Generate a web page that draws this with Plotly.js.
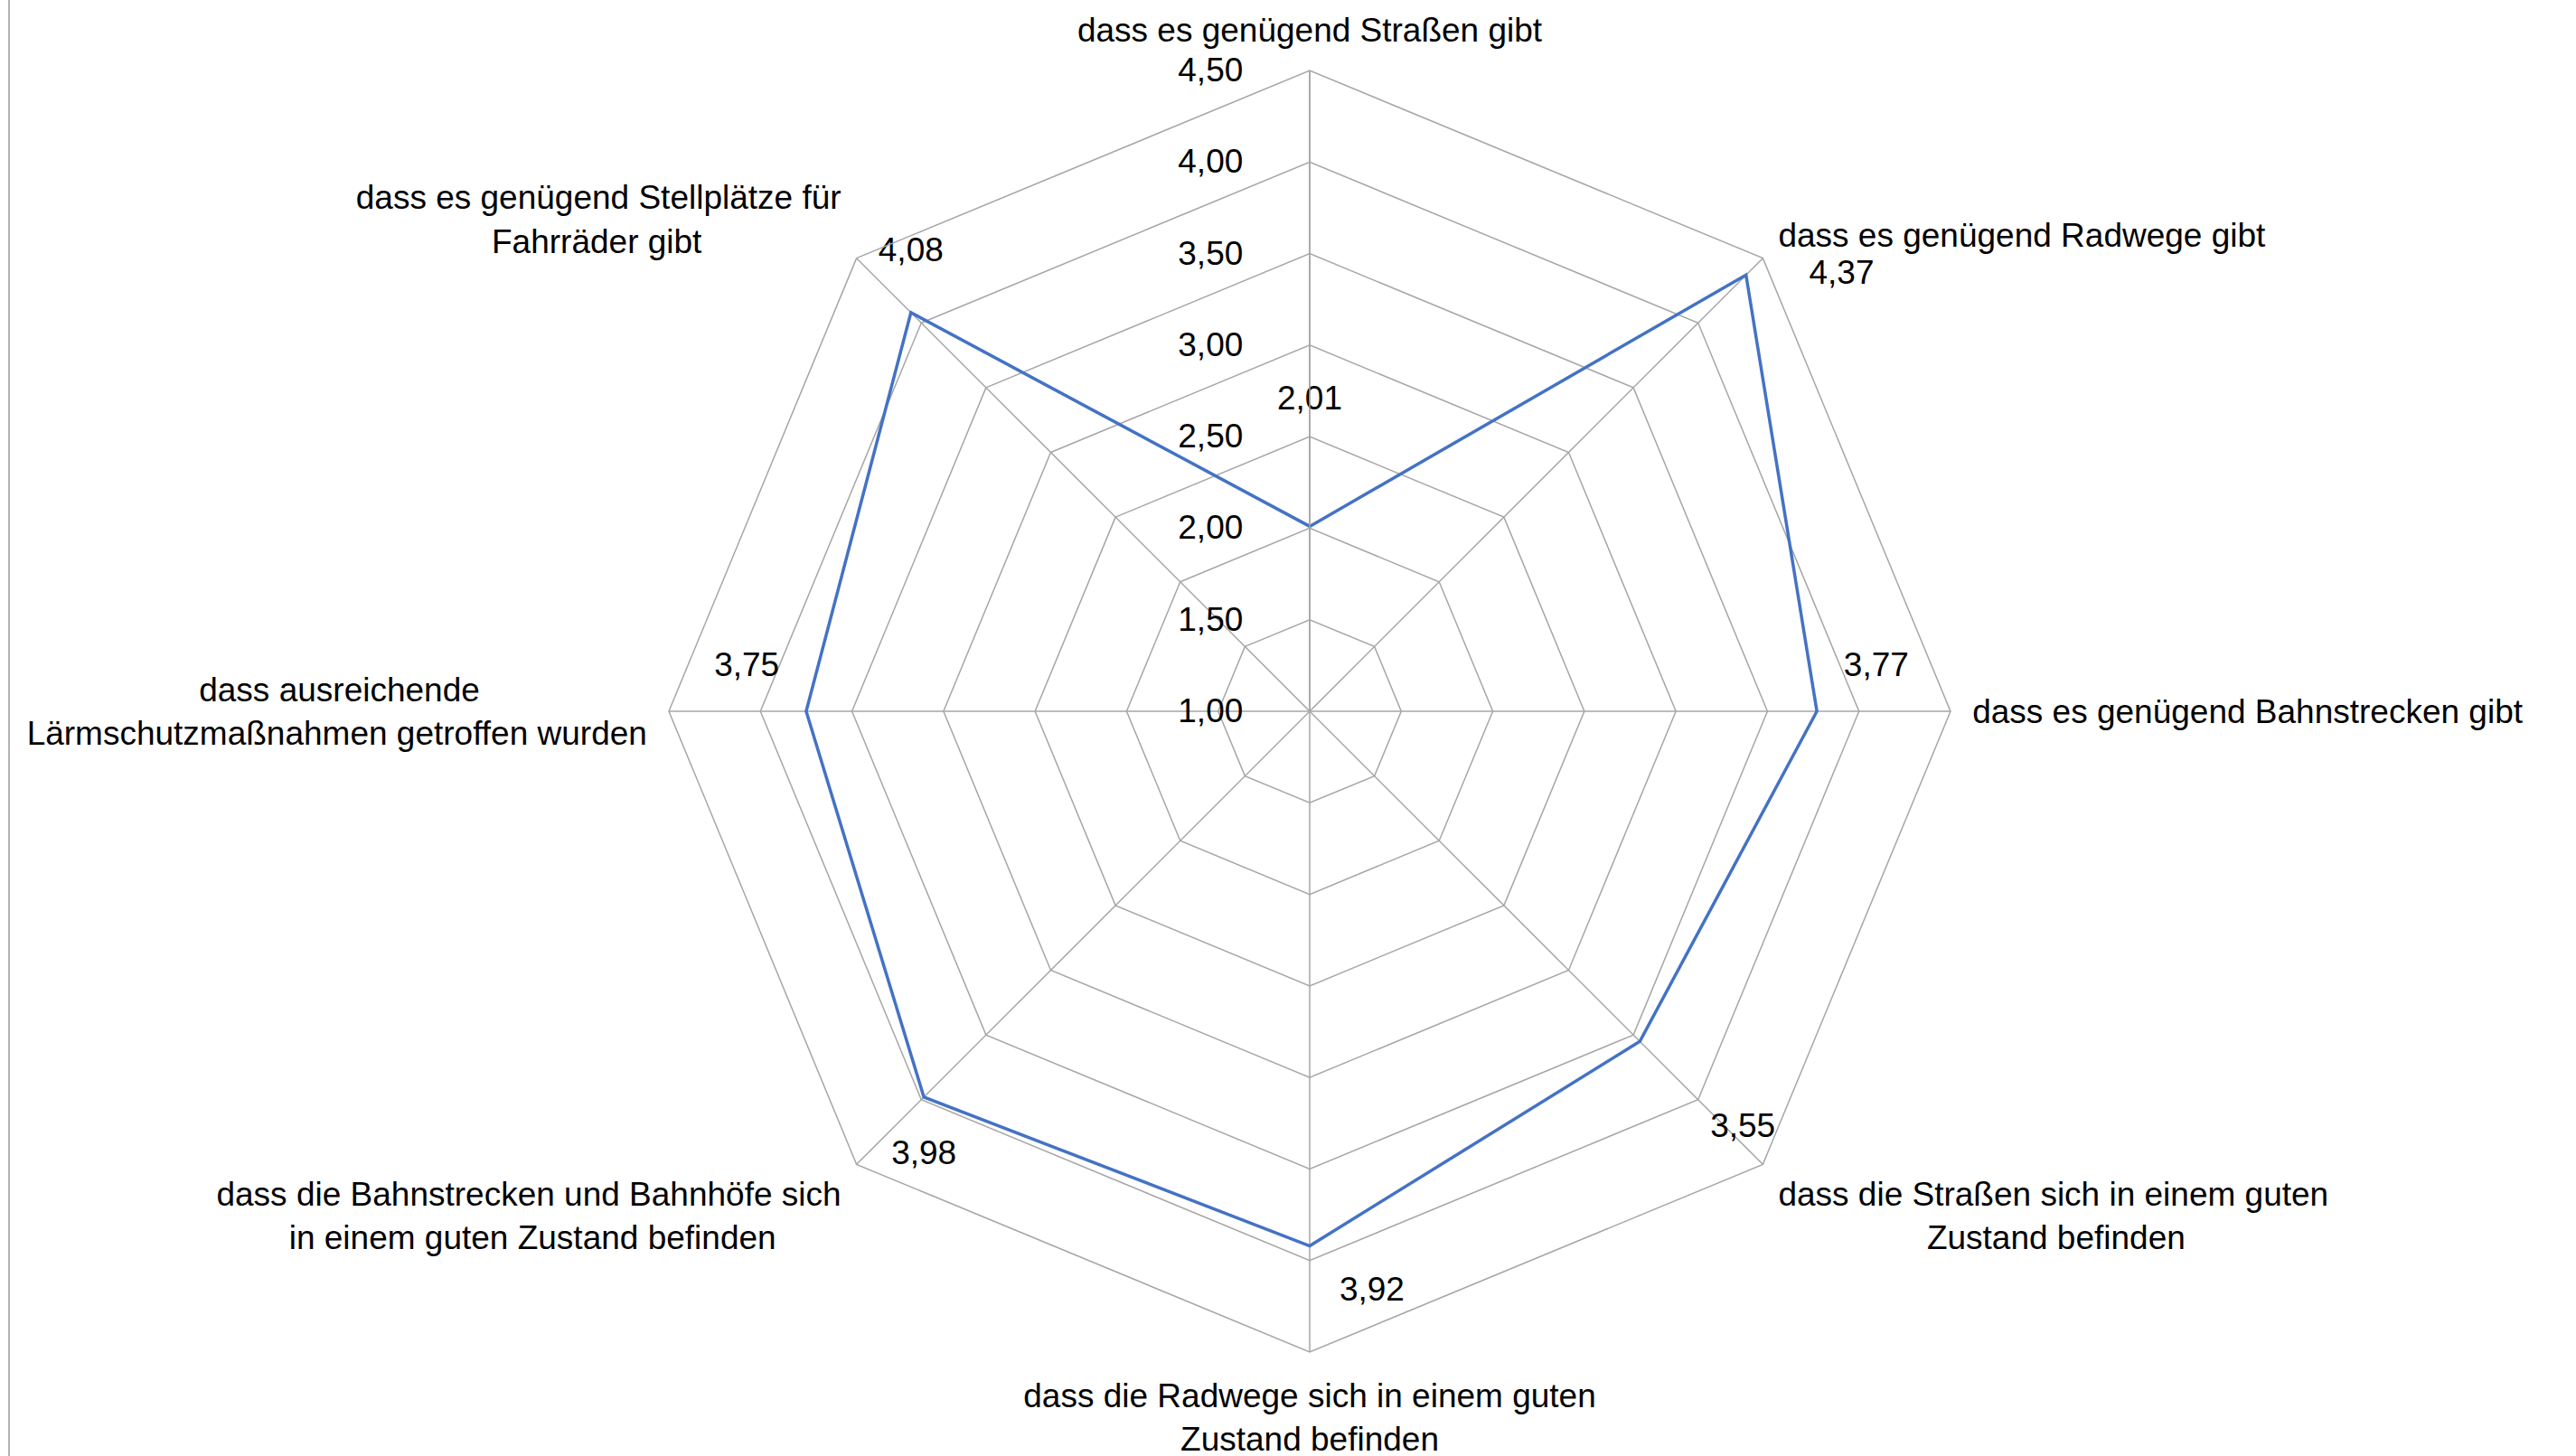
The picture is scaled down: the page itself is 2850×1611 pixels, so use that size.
<!DOCTYPE html>
<html>
<head>
<meta charset="utf-8">
<script src="https://cdn.plot.ly/plotly-3.0.1.min.js"></script>
<style>
  html, body { margin: 0; padding: 0; background: #ffffff; }
  #chart { width: 2850px; height: 1611px; }
</style>
</head>
<body>
<div id="chart"></div>
<script>
// ---- data ----
const NB = "\u00a0";
const categories = [
  "dass es genügend Straßen gibt",
  "dass es genügend Radwege gibt",
  "dass es genügend Bahnstrecken gibt",
  "dass die Straßen sich in einem guten<br>" + NB.repeat(16) + "Zustand befinden",
  "dass die Radwege sich in einem guten<br>Zustand befinden",
  "dass die Bahnstrecken und Bahnhöfe sich<br>in einem guten Zustand befinden" + NB.repeat(7),
  "dass ausreichende" + NB.repeat(18) + "<br>Lärmschutzmaßnahmen getroffen wurden",
  "dass es genügend Stellplätze für<br>Fahrräder gibt" + NB.repeat(15)
];
const values = [2.01, 4.37, 3.77, 3.55, 3.92, 3.98, 3.75, 4.08];
const radialTicks = [1.0, 1.5, 2.0, 2.5, 3.0, 3.5, 4.0, 4.5];

// ---- style ----
const gridColor = "#a6a6a6";
const lineColor = "#4472c4";
const fontFamily = "Liberation Sans, Arial, sans-serif";
const FS = 37;
const labelPositions = ["top center", "middle right", "top right", "bottom right",
                        "bottom right", "bottom center", "top left", "top center"];
const labelGap = [190, 110, 46, 123, 51, 72, 46, 74]; // invisible marker sizes used as label offsets

const traces = [
  {
    type: "scatterpolar",
    r: values.concat([values[0]]),
    theta: categories.concat([categories[0]]),
    mode: "lines",
    line: { color: lineColor, width: 3.5 },
    hoverinfo: "skip"
  },
  {
    type: "scatterpolar",
    r: values,
    theta: categories,
    mode: "markers+text",
    marker: { size: labelGap, opacity: 0 },
    texttemplate: "%{r:.2f}",
    textposition: labelPositions,
    textfont: { family: fontFamily, size: FS, color: "#000000" },
    cliponaxis: false,
    hoverinfo: "skip"
  }
];

const W = 2850, H = 1611;
const layout = {
  width: W,
  height: H,
  margin: { l: 0, r: 0, t: 0, b: 0, pad: 0 },
  paper_bgcolor: "#ffffff",
  separators: ",.",
  showlegend: false,
  font: { family: fontFamily, size: FS, color: "#000000" },
  polar: {
    domain: { x: [740 / W, 2158 / W], y: [115 / H, 1533 / H] },
    gridshape: "linear",
    bgcolor: "#ffffff",
    radialaxis: {
      range: [1, 4.5],
      tickvals: radialTicks,
      tickformat: ".2f",
      angle: 90,
      tickangle: 90,
      side: "counterclockwise",
      showline: true,
      linecolor: gridColor,
      linewidth: 1.5,
      gridcolor: gridColor,
      gridwidth: 1.5,
      ticks: "outside",
      ticklen: 60,
      tickcolor: "rgba(0,0,0,0)",
      tickfont: { family: fontFamily, size: FS, color: "#000000" }
    },
    angularaxis: {
      direction: "clockwise",
      rotation: 90,
      showline: true,
      linecolor: gridColor,
      linewidth: 1.5,
      gridcolor: gridColor,
      gridwidth: 1.5,
      ticks: "outside",
      ticklen: 16,
      tickcolor: "rgba(0,0,0,0)",
      tickfont: { family: fontFamily, size: FS, color: "#000000" }
    }
  },
  shapes: [
    { type: "line", xref: "paper", yref: "paper", x0: 10 / W, x1: 10 / W, y0: 0, y1: 1,
      line: { color: "#b4b4b4", width: 2 } }
  ]
};

Plotly.newPlot("chart", traces, layout, { staticPlot: true, displayModeBar: false });
</script>
</body>
</html>
